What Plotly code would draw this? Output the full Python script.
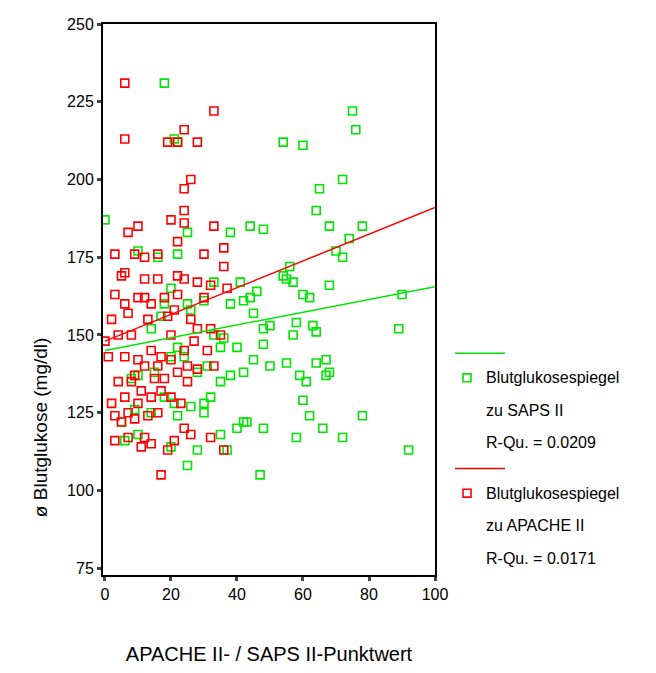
import plotly.graph_objects as go

saps = [(0,187),(18,231),(21,213),(22,212),(54,212),(60,211),(75,222),(76,216),(72,200),(65,197),(64,190),(68,185),(78,185),(44,185),(48,184),(38,183),(25,183),(10,177),(16,175),(22,176),(56,172),(74,181),(70,177),(72,175),(54,169),(55,168),(57,167),(41,167),(46,164),(60,163),(62,162),(68,166),(44,162),(42,161),(33,167),(30,161),(20,165),(18,160),(25,160),(26,158),(17,156),(14,152),(45,157),(48,152),(50,153),(38,160),(33,150),(36,149),(35,146),(40,146),(58,154),(57,150),(63,153),(64,151),(90,163),(89,152),(22,146),(24,143),(20,143),(28,138),(31,140),(42,138),(45,142),(48,147),(59,137),(61,135),(64,141),(67,142),(68,138),(67,137),(55,141),(50,140),(38,137),(35,135),(15,138),(10,137),(8,136),(18,130),(21,128),(26,127),(30,128),(32,130),(30,125),(22,124),(14,125),(9,126),(40,120),(42,122),(43,122),(48,120),(58,117),(62,124),(60,129),(66,120),(72,117),(78,124),(92,113),(5,122),(10,118),(20,114),(28,113),(37,113),(47,105),(25,108),(6,116),(35,118)]
apache = [(6,231),(6,213),(19,212),(28,212),(33,222),(24,216),(22,212),(26,200),(24,197),(24,190),(24,186),(20,187),(10,185),(3,176),(9,176),(7,183),(12,175),(16,176),(22,180),(33,185),(30,176),(36,178),(5,169),(6,170),(16,168),(22,169),(24,168),(28,167),(32,166),(36,172),(12,168),(10,162),(3,163),(6,160),(12,162),(14,160),(18,162),(22,163),(30,162),(37,165),(7,157),(2,155),(8,150),(13,155),(19,156),(21,158),(26,155),(28,152),(32,152),(35,150),(4,150),(0,148),(1,143),(6,143),(10,142),(14,145),(17,143),(20,142),(24,145),(25,140),(28,139),(31,145),(22,138),(12,140),(8,135),(4,135),(6,130),(10,128),(14,130),(17,132),(20,130),(23,128),(2,128),(9,123),(13,124),(16,125),(24,120),(5,122),(7,117),(12,117),(14,115),(19,113),(21,116),(26,118),(32,117),(36,113),(17,105),(3,116),(11,114),(18,136),(20,150),(25,135),(9,137),(7,125),(3,124),(15,136),(16,140),(11,132),(27,148),(33,140)]
fit_x = [0, 100]
fit_saps = [145, 165.5]
fit_apache = [148, 191]

GREEN = "#00e600"
RED = "#ff0000"
FONT = "Liberation Sans, Arial, sans-serif"

fig = go.Figure()
for pts, col in [(saps, GREEN), (apache, RED)]:
    fig.add_trace(go.Scatter(x=[p[0] for p in pts], y=[p[1] for p in pts], mode="markers",
                             marker=dict(symbol="square-open", size=8, color=col, line=dict(width=1.6))))
fig.add_trace(go.Scatter(x=fit_x, y=fit_saps, mode="lines", line=dict(color=GREEN, width=1.5)))
fig.add_trace(go.Scatter(x=fit_x, y=fit_apache, mode="lines", line=dict(color=RED, width=1.5)))

# legend drawn by hand (page pixel positions converted to paper coords)
leg = [(GREEN, 350, ["Blutglukosespiegel", "zu SAPS II", "R-Qu. = 0.0209"]),
       (RED, 467, ["Blutglukosespiegel", "zu APACHE II", "R-Qu. = 0.0171"])]
for col, ly, lines in leg:
    fig.add_shape(type="line", xref="paper", yref="paper", x0=(455-103)/332, x1=(505-103)/332,
                  y0=(575-ly)/559, y1=(575-ly)/559, line=dict(color=col, width=1.5))
    fig.add_shape(type="rect", xref="paper", yref="paper", x0=(463-103)/332, x1=(471-103)/332,
                  y0=(575-ly-29)/559, y1=(575-ly-21)/559, line=dict(color=col, width=1.6))
    for i, t in enumerate(lines):
        fig.add_annotation(text=t, xref="paper", yref="paper", x=(484-103)/332,
                           y=(575-ly-25-33*i)/559, xanchor="left", yanchor="middle",
                           showarrow=False, font=dict(size=16, color="black", family=FONT))

fig.add_annotation(text="ø Blutglukose (mg/dl)", xref="paper", yref="paper", x=(40-103)/332,
                   y=(575-425)/559, textangle=-90, showarrow=False, xanchor="center", yanchor="middle",
                   font=dict(size=19, color="black", family=FONT))

fig.update_layout(width=656, height=673, margin=dict(l=95, r=229, t=8, b=106),
                  plot_bgcolor="white", paper_bgcolor="white", showlegend=False,
                  font=dict(family=FONT, color="black", size=16))
fig.update_xaxes(range=[-0.6, 100], tickvals=[0, 20, 40, 60, 80, 100], showline=True, linecolor="black",
                 linewidth=2, mirror=True, ticks="outside", ticklen=4, tickwidth=3, showgrid=False,
                 zeroline=False, title=dict(text="APACHE II- / SAPS II-Punktwert", font=dict(size=20), standoff=45))
fig.update_yaxes(range=[72.8, 250], tickvals=[75, 100, 125, 150, 175, 200, 225, 250], showline=True,
                 linecolor="black", linewidth=2, mirror=True, ticks="outside", ticklen=4, tickwidth=3,
                 showgrid=False, zeroline=False)
fig.write_html("out.html")
